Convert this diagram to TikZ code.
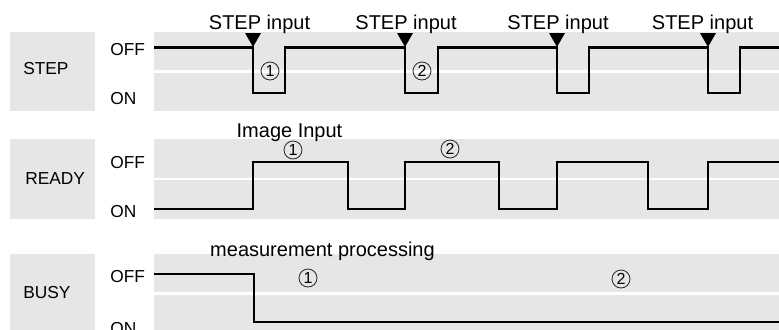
\documentclass[tikz,border=0pt]{standalone}
\usepackage{fontspec}
\setmainfont{Liberation Sans}
\definecolor{bandgray}{RGB}{230,230,230}
\begin{document}
\begin{tikzpicture}[x=0.75pt,y=-0.75pt,
  sig/.style={line width=1.6pt,line join=miter},
  sep/.style={white,line width=2pt},
  lab/.style={font=\fontsize{13}{15}\selectfont,anchor=west,inner sep=0pt},
  ann/.style={font=\fontsize{15}{18}\selectfont,anchor=base,inner sep=0pt},
  num/.style={circle,draw=black!85,line width=0.6pt,minimum size=13.5pt,inner sep=0pt,
    font=\fontsize{12}{14}\selectfont},
  trig/.style={fill=black}]
\useasboundingbox (0,0) rectangle (779,329);
% bands
\fill[bandgray] (10,32) rectangle (95,111);
\fill[bandgray] (154,32) rectangle (779,111);
\draw[sep] (154,71.5) -- (779,71.5);
\fill[bandgray] (10,139) rectangle (95,219);
\fill[bandgray] (154,139) rectangle (779,219);
\draw[sep] (154,179) -- (779,179);
\fill[bandgray] (10,254) rectangle (95,333);
\fill[bandgray] (154,254) rectangle (779,333);
\draw[sep] (154,293.5) -- (779,293.5);
% row labels
\node[lab] (lstep) at (23,69) {STEP};
\node[lab] (lready) at (25,179) {READY};
\node[lab] (lbusy) at (23,292.5) {BUSY};
\node[lab] (soff) at (110,50) {OFF};
\node[lab] (son) at (110,98.5) {ON};
\node[lab] (roff) at (110,162.5) {OFF};
\node[lab] (ron) at (110,212) {ON};
\node[lab] (boff) at (110,277) {OFF};
\node[lab] (bon) at (110,328.5) {ON};
% STEP signal
\draw[sig] (154,47.5) -- (253,47.5) -- (253,93) -- (285,93) -- (285,47.5)
  -- (405,47.5) -- (405,93) -- (438,93) -- (438,47.5)
  -- (557,47.5) -- (557,93) -- (589,93) -- (589,47.5)
  -- (708,47.5) -- (708,93) -- (740,93) -- (740,47.5) -- (780,47.5);
% READY signal
\draw[sig] (154,209) -- (253,209) -- (253,162) -- (348,162) -- (348,209)
  -- (405,209) -- (405,162) -- (499,162) -- (499,209)
  -- (557,209) -- (557,162) -- (648,162) -- (648,209)
  -- (708,209) -- (708,162) -- (780,162);
% BUSY signal
\draw[sig] (154,274) -- (254,274) -- (254,322) -- (780,322);
% triggers
\foreach \t/\n in {253/a,405/b,557/c,708/d}{
  \fill[trig] (\t-8,33) -- (\t+8,33) -- (\t,47) -- cycle;
}
% annotations
\node[ann] (s1) at (259.5,29) {STEP input};
\node[ann] (s2) at (406,29) {STEP input};
\node[ann] (s3) at (558,29) {STEP input};
\node[ann] (s4) at (702.5,29) {STEP input};
\node[ann] (img) at (289.5,137.5) {Image Input};
\node[ann] (meas) at (322.5,256) {measurement processing};
% circled numbers
\node[num] (n1) at (270,71) {1};
\node[num] (n2) at (422,71) {2};
\node[num] (n3) at (293,150) {1};
\node[num] (n4) at (450,149) {2};
\node[num] (n5) at (308,278) {1};
\node[num] (n6) at (621,279) {2};
\end{tikzpicture}
\end{document}
